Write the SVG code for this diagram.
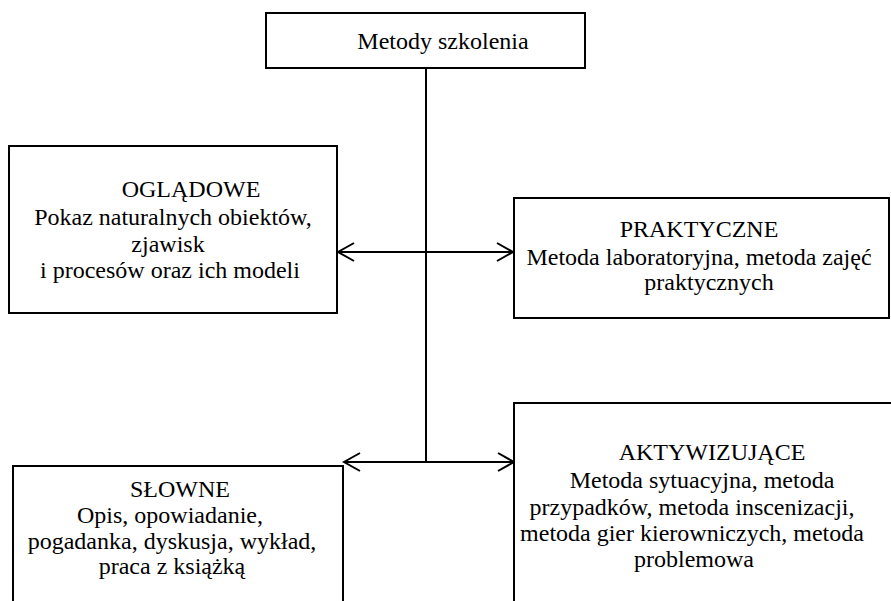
<svg xmlns="http://www.w3.org/2000/svg" width="891" height="601" viewBox="0 0 891 601">
  <style>
    .box { fill: #ffffff; stroke: #000000; stroke-width: 2; }
    .lbl { font-size: 24px; fill: #000000; text-anchor: middle; }
    .conn { fill: none; stroke: #000000; stroke-width: 2; }
  </style>
  <defs>
    <marker id="open" viewBox="0 0 20 20" refX="18" refY="10" markerWidth="20" markerHeight="20" markerUnits="userSpaceOnUse" orient="auto-start-reverse">
      <path d="M2,1 L18,10 L2,19" fill="none" stroke="#000000" stroke-width="2"/>
    </marker>
  </defs>
  <rect width="891" height="601" fill="#ffffff"/>

  <g id="connectors">
    <line class="conn" x1="426" y1="68" x2="426" y2="462"/>
    <line class="conn" x1="338" y1="252" x2="513" y2="252" marker-start="url(#open)" marker-end="url(#open)"/>
    <line class="conn" x1="344" y1="462" x2="514" y2="462" marker-start="url(#open)" marker-end="url(#open)"/>
  </g>

  <g font-family="'Liberation Serif', 'Times New Roman', 'DejaVu Serif', serif">
    <g id="root">
      <rect class="box" x="266" y="13" width="319" height="55"/>
      <text class="lbl" x="443" y="49">Metody szkolenia</text>
    </g>

    <g id="ogladowe">
      <rect class="box" x="9" y="146" width="328" height="167"/>
      <text class="lbl" x="191" y="197">OGLĄDOWE</text>
      <text class="lbl" x="173" y="225">Pokaz naturalnych obiektów,</text>
      <text class="lbl" x="168" y="252">zjawisk</text>
      <text class="lbl" x="170" y="278">i procesów oraz ich modeli</text>
    </g>

    <g id="praktyczne">
      <rect class="box" x="514" y="198" width="375" height="120"/>
      <text class="lbl" x="699" y="237">PRAKTYCZNE</text>
      <text class="lbl" x="699" y="265">Metoda laboratoryjna, metoda zajęć</text>
      <text class="lbl" x="709" y="290">praktycznych</text>
    </g>

    <g id="slowne">
      <rect class="box" x="13" y="466" width="330" height="150"/>
      <text class="lbl" x="180" y="497">SŁOWNE</text>
      <text class="lbl" x="170" y="523">Opis, opowiadanie,</text>
      <text class="lbl" x="172" y="549">pogadanka, dyskusja, wykład,</text>
      <text class="lbl" x="172" y="574">praca z książką</text>
    </g>

    <g id="aktywizujace">
      <rect class="box" x="514" y="403" width="390" height="220"/>
      <text class="lbl" x="712" y="460">AKTYWIZUJĄCE</text>
      <text class="lbl" x="702" y="488">Metoda sytuacyjna, metoda</text>
      <text class="lbl" x="692" y="515">przypadków, metoda inscenizacji,</text>
      <text class="lbl" x="692" y="541">metoda gier kierowniczych, metoda</text>
      <text class="lbl" x="694" y="567">problemowa</text>
    </g>
  </g>
</svg>
